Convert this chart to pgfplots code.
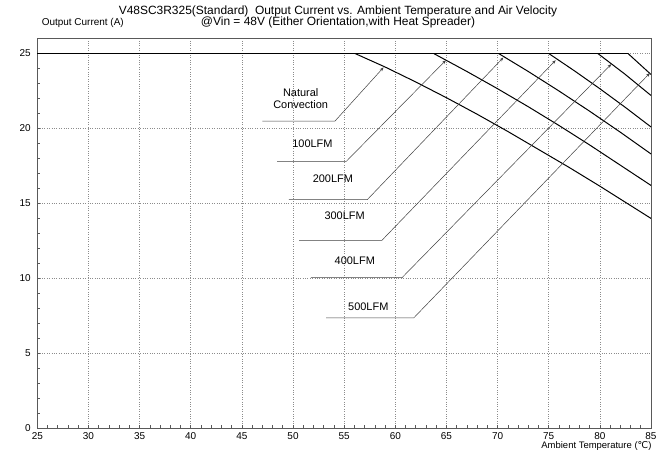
\documentclass[border=0pt]{standalone}
\usepackage{pgfplots}
\pgfplotsset{compat=1.18}
\usepackage{fontspec}
\setmainfont{Liberation Sans}
\newfontfamily\symfont{DejaVu Sans}
\usetikzlibrary{arrows.meta}

\definecolor{boxgray}{gray}{0.35}
\definecolor{gridgray}{gray}{0.55}

\begin{document}
\begin{tikzpicture}
\useasboundingbox (-37.3bp,-24.7bp) rectangle (632.7bp,428.3bp);
\begin{axis}[
  scale only axis,
  width=613.7bp, height=389.8bp,
  xmin=25, xmax=85, ymin=0, ymax=26,
  xtick={25,30,...,85}, ytick={0,5,...,25},
  minor x tick num=4, minor y tick num=4,
  xtick pos=bottom, ytick pos=left,
  tick align=inside,
  major tick length=3bp, minor tick length=3bp,
  every tick/.style={boxgray, line width=0.6bp},
  axis line style={boxgray, line width=0.8bp},
  grid=major,
  major grid style={gridgray, dotted, line width=0.5bp},
  /pgf/number format/assume math mode=true,
  tick label style={font=\fontsize{10}{11}\selectfont},
  xticklabel style={yshift=-1bp},
  yticklabel style={xshift=-3bp},
  xlabel={Ambient Temperature ({\symfont ℃})},
  xlabel style={at={(rel axis cs:1,0)}, anchor=north east, yshift=-10bp, xshift=4bp,
    font=\fontsize{9.5}{10}\selectfont},
  ylabel={Output Current (A)},
  ylabel style={at={(rel axis cs:0,1)}, anchor=south west, rotate=-90, yshift=7bp, xshift=1bp,
    font=\fontsize{10}{11}\selectfont},
  title={V48SC3R325(Standard)\ \ Output Current vs. Ambient Temperature and Air Velocity\\@Vin = 48V (Either Orientation,with Heat Spreader)},
  title style={at={(rel axis cs:0.49,1)}, anchor=south, yshift=1bp, align=center,
    font=\fontsize{12}{11.5}\selectfont},
  clip=false,
]
% flat 25 A limit
\addplot[black, line width=1bp] coordinates {(25,25) (82.75,25)};
% derating curves
\addplot[black, line width=1bp] coordinates {(56.06,25) (59,24.1) (62,23.1) (65,22.05) (68,20.95) (71,19.8) (74,18.6) (77,17.4) (80,16.15) (85,14.0)};
\addplot[black, line width=1bp] coordinates {(63.75,25) (67,23.8) (70,22.65) (73,21.45) (76,20.2) (79,18.9) (82,17.55) (85,16.2)};
\addplot[black, line width=1bp] coordinates {(70.1,25) (73,23.8) (76,22.5) (79,21.15) (82,19.75) (85,18.3)};
\addplot[black, line width=1bp] coordinates {(75,25) (77.5,23.85) (80,22.65) (82.5,21.4) (85,20.1)};
\addplot[black, line width=1bp] coordinates {(79.8,25) (82.4,23.65) (85,22.2)};
\addplot[black, line width=1bp] coordinates {(82.75,25) (85,23.6)};
% leader arrows
\pgfplotsset{leader/.style={black!75, line width=0.5bp, -{Stealth[length=4bp,width=3bp]}}}
\addplot[leader] coordinates {(47.0,20.49) (54.1,20.49) (58.85,24.07)};
\addplot[leader] coordinates {(48.45,17.8) (55.2,17.8) (64.95,24.55)};
\addplot[leader] coordinates {(49.6,15.25) (57.26,15.25) (70.57,24.73)};
\addplot[leader] coordinates {(50.6,12.53) (58.68,12.53) (75.68,24.55)};
\addplot[leader] coordinates {(51.75,10.05) (60.66,10.05) (81.12,24.29)};
\addplot[leader] coordinates {(53.24,7.36) (61.8,7.36) (84.9,23.7)};
% labels
\begin{scope}[every node/.style={font=\fontsize{11}{12.5}\selectfont, align=center}]
\node at (axis cs:50.75,22.0) {Natural\\Convection};
\node at (axis cs:51.9,18.97) {100LFM};
\node at (axis cs:53.9,16.67) {200LFM};
\node at (axis cs:55.05,14.18) {300LFM};
\node at (axis cs:56.04,11.18) {400LFM};
\node at (axis cs:57.36,8.08) {500LFM};
\end{scope}
\end{axis}
\end{tikzpicture}
\end{document}
